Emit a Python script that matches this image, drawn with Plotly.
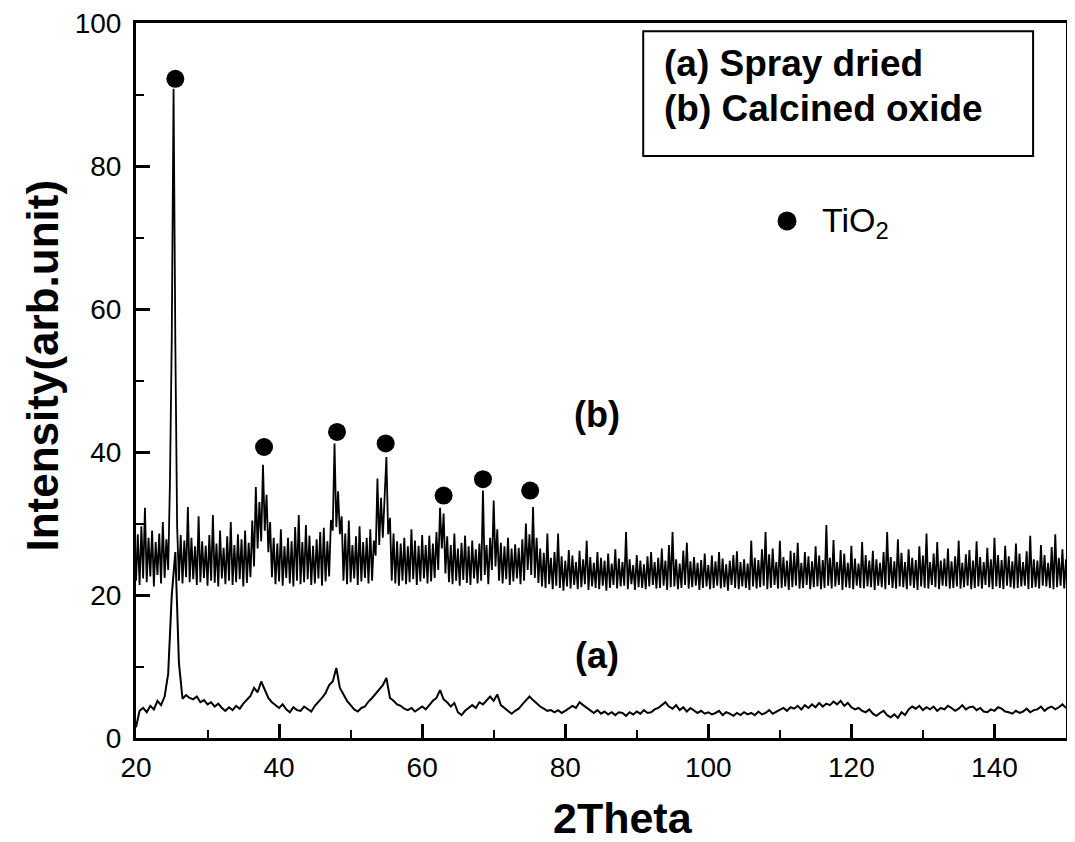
import plotly.graph_objects as go

# ---------------- data ----------------
# 2theta scan grids
theta_a = [20 + 0.5 * i for i in range(261)]
theta_b = [20 + 0.25 * i for i in range(521)]

# (a) Spray dried, step 0.5
intensity_a = [
    1.5, 3.8, 4.2, 3.6, 4.5, 4.0, 5.2, 4.6, 5.8, 9.0,      # 20-24.5
    20.0, 26.0, 10.5, 5.5, 6.0, 5.6, 5.4, 5.8, 5.0, 5.3,   # 25-29.5
    4.7, 5.0, 4.4, 4.8, 4.2, 3.8, 4.3, 3.9, 4.5, 4.1,      # 30-34.5
    4.8, 5.4, 5.9, 7.0, 6.4, 7.9, 6.8, 5.6, 5.0, 4.6,      # 35-39.5
    4.2, 4.7, 4.0, 3.6, 4.3, 3.9, 3.8, 4.4, 4.0, 3.7,      # 40-44.5
    4.5, 5.0, 5.6, 6.3, 7.4, 7.9, 9.8, 7.0, 6.0, 5.2,      # 45-49.5
    4.6, 4.0, 3.7, 4.2, 4.4, 5.1, 5.6, 6.2, 6.8, 7.4,      # 50-54.5
    8.4, 5.6, 5.2, 4.7, 4.5, 4.1, 3.9, 4.2, 3.7, 4.1,      # 55-59.5
    4.4, 4.0, 4.6, 5.2, 5.6, 6.7, 5.4, 5.0, 4.4, 4.9,      # 60-64.5
    3.6, 3.2, 3.8, 4.2, 4.6, 4.2, 5.0, 4.7, 5.3, 5.8,      # 65-69.5
    5.2, 6.1, 4.6, 4.2, 3.7, 3.4, 3.8, 4.1, 4.7, 5.2,      # 70-74.5
    5.8, 5.3, 4.8, 4.4, 4.1, 3.8, 3.9, 3.6, 3.9, 3.5,      # 75-79.5
    3.8, 4.1, 4.5, 4.2, 5.0, 4.6, 4.2, 3.8, 3.5, 3.9,      # 80-84.5
    3.4, 3.7, 3.3, 3.6, 3.2, 3.6, 3.5, 3.1, 3.6, 3.3,      # 85-89.5
    3.7, 3.4, 3.9, 3.5, 3.6, 4.0, 4.2, 4.6, 5.0, 4.4,      # 90-94.5
    4.1, 4.6, 3.9, 4.3, 3.7, 4.2, 3.9, 3.5, 3.8, 3.4,      # 95-99.5
    3.6, 3.3, 3.5, 3.8, 3.2, 3.6, 3.4, 3.1, 3.5, 3.2,      # 100-104.5
    3.6, 3.3, 3.5, 3.2, 3.7, 3.3, 3.5, 3.9, 3.4, 3.7,      # 105-109.5
    3.9, 4.2, 3.8, 4.3, 4.1, 4.5, 4.0, 4.6, 4.2, 4.7,      # 110-114.5
    4.3, 4.9, 4.4, 4.8, 4.6, 5.1, 4.7, 5.2, 4.5, 4.9,      # 115-119.5
    4.3, 4.0, 4.2, 3.8, 3.6, 4.0, 3.4, 3.1, 3.5, 3.8,      # 120-124.5
    3.2, 2.9, 3.3, 2.8, 3.6, 3.2, 4.0, 4.4, 4.1, 4.5,      # 125-129.5
    3.9, 4.3, 4.0, 4.4, 3.8, 4.2, 4.0, 4.5, 4.2, 3.8,      # 130-134.5
    4.1, 4.6, 4.0, 4.3, 4.4, 3.9, 4.2, 3.7, 3.6, 4.0,      # 135-139.5
    3.8, 4.3, 4.1, 3.7, 3.6, 3.4, 3.8, 3.5, 3.7, 4.1,      # 140-144.5
    3.6, 3.9, 4.0, 4.4, 3.8, 4.2, 4.4, 4.0, 4.3, 4.7,      # 145-149.5
    4.2,                                                    # 150
]

# (b) Calcined oxide, step 0.25 (one row per degree)
intensity_b = [
    22.0, 28.5, 21.4, 29.6,   # 20
    22.3, 32.2, 21.8, 28.0,   # 21
    22.6, 29.0, 21.2, 27.4,   # 22
    22.8, 28.6, 21.6, 30.2,   # 23
    22.4, 27.8, 23.5, 36.0,   # 24
    56.0, 90.8, 55.0, 29.6,   # 25
    22.0, 28.4, 21.6, 27.6,   # 26
    22.5, 32.3, 21.8, 28.0,   # 27
    22.2, 26.8, 21.4, 31.0,   # 28
    21.8, 27.5, 22.4, 26.9,   # 29
    21.3, 28.4, 22.0, 31.2,   # 30
    21.7, 27.2, 21.2, 29.0,   # 31
    22.3, 26.6, 21.5, 28.2,   # 32
    22.0, 30.2, 21.4, 27.0,   # 33
    21.8, 28.5, 22.2, 27.8,   # 34
    21.2, 29.0, 21.7, 27.3,   # 35
    22.5, 30.4, 24.0, 35.1,   # 36
    26.5, 33.0, 27.5, 38.2,   # 37
    29.0, 34.0, 26.0, 30.2,   # 38
    22.5, 28.0, 21.5, 27.2,   # 39
    21.9, 29.2, 21.3, 26.8,   # 40
    22.4, 28.0, 21.6, 27.5,   # 41
    21.2, 29.5, 22.0, 31.2,   # 42
    21.5, 27.4, 21.8, 29.8,   # 43
    22.2, 28.3, 21.4, 26.9,   # 44
    21.6, 27.8, 22.3, 28.8,   # 45
    21.3, 29.4, 21.9, 27.5,   # 46
    22.6, 30.5, 29.0, 41.2,   # 47
    29.5, 34.5, 28.5, 31.0,   # 48
    22.0, 28.6, 21.5, 30.4,   # 49
    21.8, 27.0, 22.3, 28.2,   # 50
    21.4, 29.6, 21.9, 27.4,   # 51
    22.4, 28.0, 21.6, 29.2,   # 52
    22.0, 27.6, 25.5, 36.3,   # 53
    27.0, 33.6, 28.0, 34.0,   # 54
    39.3, 28.5, 30.8, 22.0,   # 55
    28.6, 21.6, 27.5, 21.3,   # 56
    27.2, 22.0, 28.0, 21.5,   # 57
    26.8, 21.8, 29.2, 22.2,   # 58
    27.6, 21.4, 26.9, 21.9,   # 59
    28.4, 22.3, 27.0, 21.6,   # 60
    28.3, 21.9, 27.2, 22.4,   # 61
    28.8, 23.5, 32.2, 26.5,   # 62
    31.4, 23.0, 28.2, 21.8,   # 63
    27.0, 21.5, 28.6, 22.0,   # 64
    26.5, 21.3, 27.3, 22.1,   # 65
    28.3, 21.7, 26.8, 21.4,   # 66
    27.6, 22.3, 26.4, 21.6,   # 67
    27.2, 22.0, 34.6, 22.8,   # 68
    27.0, 21.5, 28.0, 23.5,   # 69
    33.2, 24.0, 29.2, 22.0,   # 70
    27.3, 21.6, 26.8, 22.2,   # 71
    28.0, 21.4, 26.5, 21.9,   # 72
    27.1, 22.3, 26.6, 21.5,   # 73
    27.8, 22.0, 30.0, 23.5,   # 74
    28.5, 22.8, 32.3, 22.4,   # 75
    28.0, 21.7, 26.5, 21.2,   # 76
    25.9, 21.0, 28.6, 21.5,   # 77
    25.2, 20.8, 26.0, 21.3,   # 78
    28.6, 21.0, 25.4, 20.6,   # 79
    24.8, 21.2, 26.3, 20.9,   # 80
    25.5, 21.4, 24.6, 20.8,   # 81
    26.2, 21.1, 25.0, 21.5,   # 82
    27.6, 20.7, 25.3, 21.2,   # 83
    24.5, 21.0, 26.0, 20.8,   # 84
    25.2, 21.3, 24.8, 20.6,   # 85
    25.8, 21.0, 24.4, 21.4,   # 86
    26.4, 20.9, 25.1, 21.2,   # 87
    24.6, 21.3, 28.8, 20.8,   # 88
    25.0, 21.5, 24.2, 20.7,   # 89
    25.6, 21.1, 24.8, 21.0,   # 90
    24.3, 20.8, 25.4, 21.2,   # 91
    26.0, 21.4, 24.6, 20.9,   # 92
    25.2, 21.0, 26.5, 21.3,   # 93
    24.8, 20.7, 27.0, 21.1,   # 94
    28.8, 21.2, 25.0, 20.8,   # 95
    24.4, 21.0, 26.2, 21.4,   # 96
    27.3, 20.9, 24.7, 21.1,   # 97
    25.3, 21.3, 24.5, 20.7,   # 98
    24.9, 21.0, 25.8, 21.2,   # 99
    24.2, 20.8, 25.5, 21.0,   # 100
    24.7, 21.3, 26.0, 20.9,   # 101
    25.1, 21.1, 24.3, 20.6,   # 102
    24.8, 21.4, 25.6, 21.0,   # 103
    26.1, 20.8, 24.6, 21.2,   # 104
    25.0, 21.0, 24.4, 20.7,   # 105
    27.6, 21.2, 25.2, 20.9,   # 106
    24.9, 21.1, 26.4, 21.3,   # 107
    28.8, 20.8, 25.7, 21.0,   # 108
    26.5, 21.4, 24.6, 20.9,   # 109
    27.6, 21.0, 25.3, 21.2,   # 110
    24.8, 20.7, 26.2, 21.1,   # 111
    25.9, 21.3, 27.3, 20.9,   # 112
    24.5, 21.0, 26.0, 21.4,   # 113
    25.4, 20.8, 24.7, 21.1,   # 114
    26.8, 21.2, 25.5, 20.8,   # 115
    24.9, 21.0, 29.8, 21.3,   # 116
    25.2, 20.9, 27.7, 21.2,   # 117
    24.6, 21.4, 26.3, 20.7,   # 118
    25.8, 21.1, 24.5, 21.0,   # 119
    26.9, 20.8, 25.1, 21.3,   # 120
    24.4, 21.0, 27.4, 20.9,   # 121
    25.6, 21.2, 24.8, 21.1,   # 122
    26.2, 20.7, 25.0, 21.3,   # 123
    24.5, 21.1, 26.0, 20.8,   # 124
    28.8, 21.4, 25.3, 21.0,   # 125
    24.7, 20.9, 27.8, 21.2,   # 126
    25.9, 21.1, 24.6, 20.8,   # 127
    26.4, 21.3, 25.2, 21.0,   # 128
    24.9, 20.7, 26.8, 21.2,   # 129
    25.5, 21.0, 28.6, 20.9,   # 130
    24.6, 21.4, 25.8, 21.1,   # 131
    27.4, 20.8, 24.8, 21.3,   # 132
    25.1, 21.2, 26.5, 20.9,   # 133
    24.7, 21.0, 25.4, 21.2,   # 134
    27.6, 20.9, 24.5, 21.1,   # 135
    25.7, 21.3, 26.3, 20.8,   # 136
    24.8, 21.0, 27.5, 21.2,   # 137
    25.3, 20.9, 24.6, 21.4,   # 138
    26.6, 21.1, 25.0, 20.8,   # 139
    28.0, 21.2, 25.6, 21.0,   # 140
    24.9, 20.8, 26.9, 21.3,   # 141
    25.4, 21.1, 24.7, 20.9,   # 142
    27.2, 21.0, 25.8, 21.2,   # 143
    24.6, 21.3, 26.1, 20.8,   # 144
    28.3, 21.0, 25.0, 21.1,   # 145
    24.8, 20.9, 27.0, 21.3,   # 146
    25.6, 21.2, 24.5, 21.0,   # 147
    26.7, 20.8, 28.5, 21.1,   # 148
    25.2, 21.3, 26.4, 20.9,   # 149
    25.0,                     # 150
]

# TiO2 peak markers
peak_theta = [25.5, 37.9, 48.1, 54.9, 63.0, 68.5, 75.1]
peak_marker_y = [92.2, 40.7, 42.8, 41.2, 33.9, 36.2, 34.6]

x_ticks = [20, 40, 60, 80, 100, 120, 140]
y_ticks = [0, 20, 40, 60, 80, 100]
legend_lines = ["(a) Spray dried", "(b) Calcined oxide"]

assert len(intensity_a) == len(theta_a)
assert len(intensity_b) == len(theta_b)

FONT = "Liberation Sans, Arial, sans-serif"

fig = go.Figure()
fig.add_trace(go.Scatter(x=theta_b, y=intensity_b, mode="lines",
                         line=dict(color="black", width=1.8), showlegend=False))
fig.add_trace(go.Scatter(x=theta_a, y=intensity_a, mode="lines",
                         line=dict(color="black", width=2.0), showlegend=False))
fig.add_trace(go.Scatter(x=peak_theta, y=peak_marker_y, mode="markers",
                         marker=dict(color="black", size=18), showlegend=False))
# TiO2 key symbol
fig.add_trace(go.Scatter(x=[111.0], y=[72.3], mode="markers",
                         marker=dict(color="black", size=19), showlegend=False))

axis_common = dict(
    showline=True, linewidth=3, linecolor="black", mirror=True,
    ticks="inside", ticklen=14, tickwidth=2.5, tickcolor="black",
    showgrid=False, zeroline=False, ticklabeloverflow="allow", automargin=False,
    tickfont=dict(family=FONT, size=28, color="black"),
    minor=dict(ticks="inside", ticklen=8, tickwidth=2, tickcolor="black", dtick=10),
)

fig.update_xaxes(range=[20, 150], tickvals=x_ticks, ticklabelstandoff=2, **axis_common)
fig.update_yaxes(range=[0, 100], tickvals=y_ticks, ticklabelstandoff=6, **axis_common)

# axis titles
fig.add_annotation(xref="paper", yref="paper", x=0.5, y=0, xshift=22, yshift=-80,
                   text="<b>2Theta</b>", showarrow=False, xanchor="center", yanchor="middle",
                   font=dict(family=FONT, size=43, color="black"))
fig.add_annotation(xref="paper", yref="paper", x=0, y=0.5, xshift=-94, yshift=15,
                   text="<b>Intensity(arb.unit)</b>", textangle=-90, showarrow=False,
                   xanchor="center", yanchor="middle",
                   font=dict(family=FONT, size=44, color="black"))

# legend box
fig.add_shape(type="rect", xref="x", yref="y", x0=90.9, x1=145.4, y0=81.4, y1=98.85,
              line=dict(color="black", width=2), fillcolor="white", layer="above")
fig.add_annotation(x=93.5, y=94.3, xref="x", yref="y", text="<b>" + legend_lines[0] + "</b>",
                   showarrow=False, xanchor="left", yanchor="middle",
                   font=dict(family=FONT, size=37, color="black"))
fig.add_annotation(x=93.5, y=88.1, xref="x", yref="y", text="<b>" + legend_lines[1] + "</b>",
                   showarrow=False, xanchor="left", yanchor="middle",
                   font=dict(family=FONT, size=37, color="black"))
fig.add_annotation(x=115.6, y=72.1, xref="x", yref="y", text="TiO<sub>2</sub>",
                   showarrow=False, xanchor="left", yanchor="middle",
                   font=dict(family=FONT, size=34, color="black"))
fig.add_annotation(x=84.4, y=45.3, xref="x", yref="y", text="<b>(b)</b>",
                   showarrow=False, font=dict(family=FONT, size=36, color="black"))
fig.add_annotation(x=84.4, y=11.5, xref="x", yref="y", text="<b>(a)</b>",
                   showarrow=False, font=dict(family=FONT, size=36, color="black"))

# the page body adds an 8 px offset; margins compensate so the frame lands where the reference has it
fig.update_layout(
    width=1067, height=834,
    margin=dict(l=128, r=9, t=15, b=104),
    paper_bgcolor="white", plot_bgcolor="white",
    font=dict(family=FONT, color="black"),
)

fig.write_html("out.html")
